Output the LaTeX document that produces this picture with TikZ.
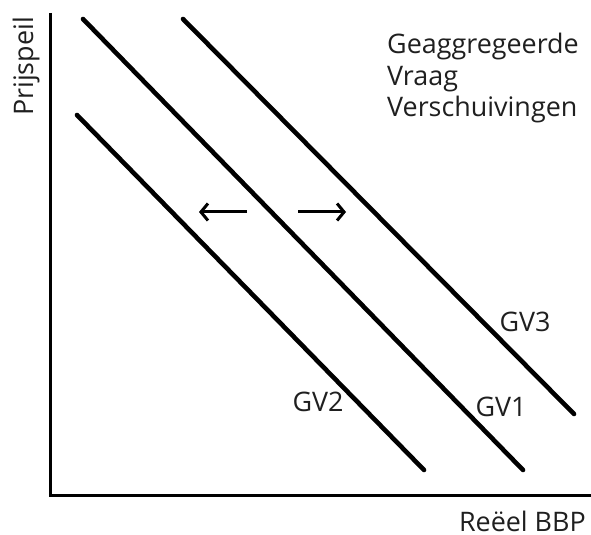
\documentclass[tikz,border=0pt]{standalone}
\usepackage{fontspec}
\setmainfont{Open Sans}
\usetikzlibrary{arrows.meta}
\begin{document}
\begin{tikzpicture}[x=1bp,y=-1bp,
  curve/.style={line width=4.6bp,line cap=round},
  axis/.style={line width=3bp},
  shift arrow/.style={line width=3bp,-{Straight Barb[length=7bp,width=17bp,line width=3bp]}},
  lbl/.style={inner sep=0pt,font=\fontsize{27}{31.5}\selectfont,text=black!88}]
\useasboundingbox (0,0) rectangle (591,535);
% axes
\coordinate (ytop) at (50,13);
\coordinate (origin) at (50,495);
\coordinate (xend) at (591,495);
\draw[axis] (ytop) -- (origin) -- (xend);
% demand curves
\coordinate (gv1a) at (83,19);  \coordinate (gv1b) at (523,470);
\coordinate (gv3a) at (183,19); \coordinate (gv3b) at (574,414);
\coordinate (gv2a) at (77,115); \coordinate (gv2b) at (424,470);
\draw[curve] (gv1a) -- (gv1b);
\draw[curve] (gv3a) -- (gv3b);
\draw[curve] (gv2a) -- (gv2b);
% shift arrows
\coordinate (la) at (247,212); \coordinate (lb) at (199,212);
\coordinate (ra) at (298,212); \coordinate (rb) at (346,212);
\draw[shift arrow] (la) -- (lb);
\draw[shift arrow] (ra) -- (rb);
% labels
\node[lbl] (t3) at (525,322) {GV3};
\node[lbl] (t1) at (501,407) {GV1};
\node[lbl] (t2) at (318,402) {GV2};
\node[lbl,anchor=base east] (xl) at (586,531) {Reëel BBP};
\node[lbl,rotate=90,anchor=base west] (yl) at (33,116) {Prijspeil};
\node[lbl,anchor=north west,align=left] (title) at (387,33) {Geaggregeerde\\Vraag\\Verschuivingen};
\end{tikzpicture}
\end{document}
